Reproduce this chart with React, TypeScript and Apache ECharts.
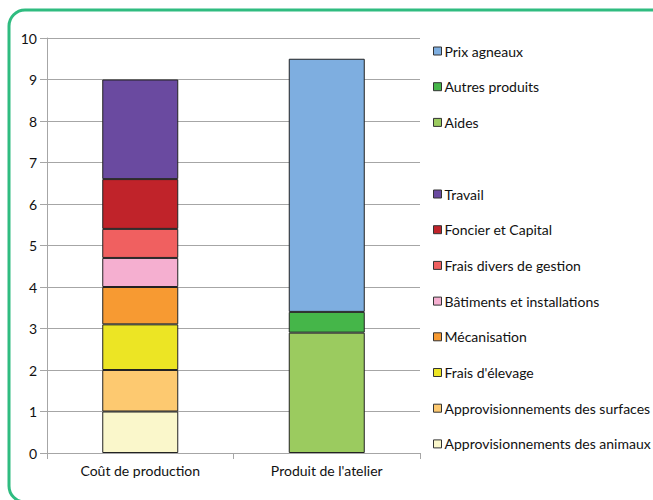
import React, { useEffect, useRef } from "react";
import * as echarts from "echarts";

const categories = ["Coût de production", "Produit de l'atelier"];
const yTicks = { min: 0, max: 10, interval: 1 };

const costNames = [
  "Approvisionnements des animaux",
  "Approvisionnements des surfaces",
  "Frais d'élevage",
  "Mécanisation",
  "Bâtiments et installations",
  "Frais divers de gestion",
  "Foncier et Capital",
  "Travail",
];
const costValues = [1, 1, 1.1, 0.9, 0.7, 0.7, 1.2, 2.4];
const costColors = ["#FAF7CB", "#FDC970", "#ECE524", "#F79A32", "#F5AFD0", "#F06060", "#C0232A", "#6A4AA0"];

const productNames = ["Aides", "Autres produits", "Prix agneaux"];
const productValues = [2.9, 0.5, 6.1];
const productColors = ["#9BCB5F", "#45B649", "#7EAEE0"];

const FONT = "Lato";

export default function App() {
  const ref = useRef<HTMLDivElement>(null);
  useEffect(() => {
    if (!ref.current) return;
    const chart = echarts.init(ref.current, undefined, { renderer: "svg" });
    const series: any[] = [];
    costNames.forEach((n, i) => {
      series.push({
        name: n,
        type: "bar",
        stack: "s",
        barWidth: 76,
        data: [costValues[i], "-"],
        itemStyle: { color: costColors[i], borderColor: "#222", borderWidth: 1 },
      });
    });
    productNames.forEach((n, i) => {
      series.push({
        name: n,
        type: "bar",
        stack: "s",
        barWidth: 76,
        data: ["-", productValues[i]],
        itemStyle: { color: productColors[i], borderColor: "#222", borderWidth: 1 },
      });
    });
    const legendCommon = {
      orient: "vertical",
      left: 433,
      padding: 0,
      itemWidth: 8,
      itemHeight: 8,
      icon: "rect",
      itemGap: 21.7,
      itemStyle: { borderColor: "#333", borderWidth: 1 },
      textStyle: { fontFamily: FONT, fontSize: 14, color: "#111", lineHeight: 14, padding: [0, 0, 0, -2] },
      selectedMode: false,
    };
    chart.setOption({
      animation: false,
      textStyle: { fontFamily: FONT },
      graphic: [
        {
          type: "rect",
          shape: { x: 9, y: 10, width: 660, height: 492, r: 16 },
          style: { fill: "none", stroke: "#2FBC80", lineWidth: 3 },
        },
      ],
      grid: { left: 47, right: 233, top: 38, bottom: 47 },
      legend: [
        { ...legendCommon, top: 44, data: [...productNames].reverse() },
        { ...legendCommon, top: 187, data: [...costNames].reverse() },
      ],
      xAxis: {
        type: "category",
        data: categories,
        axisLine: { lineStyle: { color: "#A6A6A6", width: 1 } },
        axisTick: { show: true, length: 6, lineStyle: { color: "#A6A6A6" } },
        axisLabel: { fontFamily: FONT, fontSize: 14, color: "#111", margin: 10 },
      },
      yAxis: {
        type: "value",
        min: yTicks.min,
        max: yTicks.max,
        interval: yTicks.interval,
        axisLine: { show: true, lineStyle: { color: "#A6A6A6", width: 1 } },
        axisTick: { show: true, length: 7, lineStyle: { color: "#A6A6A6" } },
        splitLine: { lineStyle: { color: "#A6A6A6", width: 1 } },
        axisLabel: { fontFamily: FONT, fontSize: 14, color: "#111", margin: 10 },
      },
      series,
    });
    return () => chart.dispose();
  }, []);
  return (
    <div
      ref={ref}
      style={{ position: "absolute", left: 0, top: 0, width: 653, height: 500, background: "#fff" }}
    />
  );
}
